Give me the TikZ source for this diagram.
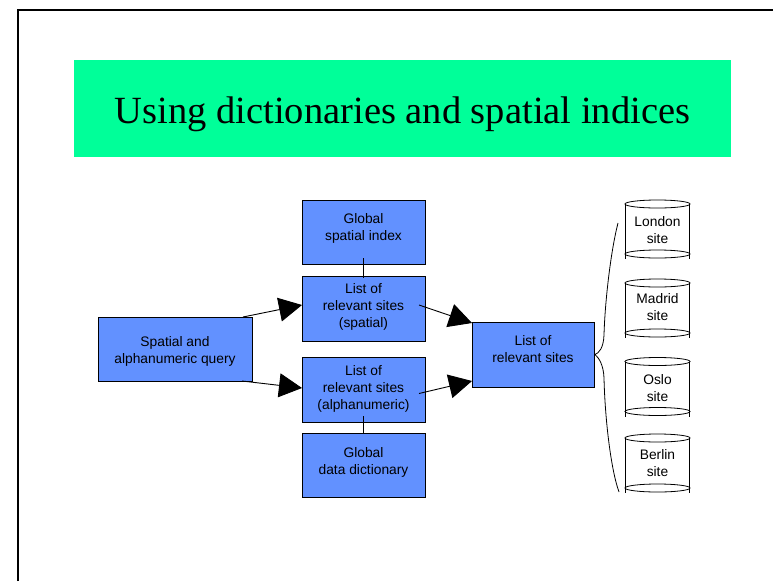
\documentclass[tikz,border=0pt]{standalone}
\usepackage{fontspec}
\setmainfont{Liberation Sans}
\newfontfamily\titlefont{Liberation Serif}
\usetikzlibrary{arrows.meta}
\definecolor{boxblue}{RGB}{98,145,255}
\definecolor{titlegreen}{RGB}{0,255,153}
% invisible rules that fix the height of the first line and the depth of the last line
\newcommand\tstrut[1]{\rule{0pt}{#1}}
\newcommand\bstrut[1]{\rule[-#1]{0pt}{#1}}
\begin{document}
\begin{tikzpicture}[x=1pt,y=-1pt,
  box/.style={draw=black, line width=0.8pt, fill=boxblue, minimum width=123pt,
    minimum height=64pt, align=center, inner sep=1pt, outer sep=0pt,
    font=\fontsize{13.8pt}{17pt}\selectfont},
  sitelabel/.style={align=center, inner sep=0pt, font=\fontsize{13.8pt}{17pt}\selectfont},
  flow/.style={line width=0.9pt, -{Triangle[length=23pt,width=24pt]}},
  tie/.style={line width=0.8pt},
  cyl/.style={line width=0.8pt},
  titleband/.style={fill=titlegreen, minimum width=657pt, minimum height=97pt,
    inner sep=0pt, outer sep=0pt},
  titletext/.style={inner sep=0pt, font=\titlefont\fontsize{38.5pt}{46pt}\selectfont}
]
\useasboundingbox (0,0) rectangle (773,581);

% slide frame (top and left edges)
\draw[line width=2pt] (18,581) -- (18,10) -- (773,10);

% title band
\node[titleband] (band) at (402.5,108.5) {};
\node[titletext] (title) at ([yshift=-5.5pt]band.center) {Using dictionaries and spatial indices};

% process boxes
\node[box, minimum width=154pt] (q) at (175,349)
  {\tstrut{16.7pt}Spatial and\\alphanumeric query\bstrut{5.1pt}};
\node[box] (gs) at (363.5,232)
  {\tstrut{11.9pt}Global\\spatial index\bstrut{11.7pt}};
\node[box, minimum height=65pt] (ls) at (363.5,308.5)
  {\tstrut{11.9pt}List of\\relevant sites\\(spatial)\bstrut{7.7pt}};
\node[box, minimum height=65pt] (la) at (363.5,389.5)
  {\tstrut{11.9pt}List of\\relevant sites\\(alphanumeric)\bstrut{5.1pt}};
\node[box] (gd) at (363.5,465)
  {\tstrut{11.9pt}Global\\data dictionary\bstrut{9.1pt}};
\node[box, minimum width=122pt, minimum height=65pt] (r) at (533,354.5)
  {\tstrut{11.9pt}List of\\relevant sites\bstrut{12.7pt}};

% links between index/dictionary and the site lists
\draw[tie] ([yshift=6pt]gs.south) -- ([yshift=-2pt]ls.north);
\draw[tie] ([yshift=6pt]la.south) -- ([yshift=-1pt]gd.north);

% query flow
\draw[flow] ([xshift=-9pt]q.north east) -- ([yshift=3.5pt]ls.west);
\draw[flow] ([xshift=-10pt]q.south east) -- ([yshift=1.5pt]la.west);
\draw[flow] ([xshift=-6pt,yshift=3.5pt]ls.east) -- ([yshift=-1pt]r.north west);
\draw[flow] ([xshift=-6pt,yshift=-4pt]la.east) -- ([yshift=6pt]r.south west);

% site databases: name / top rim / label centre / town
\foreach \nm/\yt/\yl/\town in {lon/204/231.5/London, mad/283/308.5/Madrid,
                               osl/361.5/389.5/Oslo, ber/438/465/Berlin}{
  \node[sitelabel] (\nm) at (657.5,\yl) {\tstrut{11.9pt}\town\\site\bstrut{5.1pt}};
  \draw[cyl] (625,\yt) -- (625,\yt+55) (689,\yt) -- (689,\yt+55);
  \draw[cyl] (657.5,\yt) ellipse [x radius=32.5pt, y radius=4pt];
  \draw[cyl] (657.5,\yt+50) ellipse [x radius=32.5pt, y radius=4pt];
}

% brace fanning out to the sites
\draw[tie] (618,223) .. controls (611,250) and (605,300) .. (604,335)
  .. controls (603.5,348) and (599,353) .. ([xshift=1pt]r.east)
  .. controls (599,358) and (603.5,365) .. (604,378)
  .. controls (605,420) and (611,470) .. (619,492);
\end{tikzpicture}
\end{document}
